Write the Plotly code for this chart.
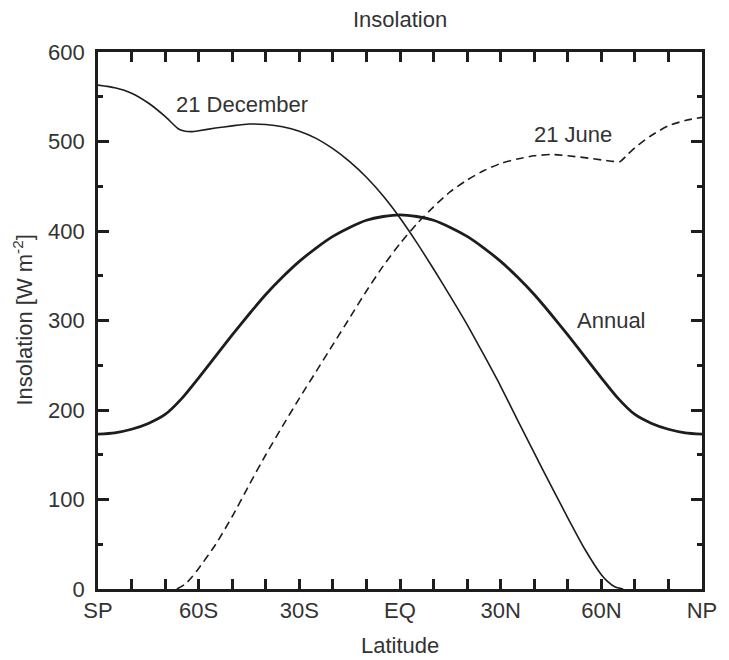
import plotly.graph_objects as go

# ---- data ----
lat_dec = [-90, -85, -80, -75, -70, -66, -64, -62, -60, -55, -50, -45, -40, -35, -30, -25, -20,
           -15, -10, -5, 0, 5, 10, 15, 20, 25, 30, 35, 40, 45, 50, 55, 60, 62, 64, 66.5]
dec_21 = [563, 560, 554, 543, 528, 514, 511.5, 511, 512, 515, 517.5, 519.5, 519, 516.5, 511.5,
          503.5, 492, 477.5, 460, 439, 414.5, 387, 357.5, 327, 295.5, 261.5, 226.5, 189, 152, 115.5,
          79.5, 45, 16, 8, 2.5, 0]

lat_jun = [-66.5, -64, -62, -60, -55, -50, -45, -40, -35, -30, -25, -20, -15, -10, -5, 0, 5, 10,
           15, 20, 25, 30, 35, 40, 45, 50, 55, 60, 63, 65.5, 68, 70, 75, 80, 85, 90]
jun_21 = [0, 5.5, 13.5, 23, 49.5, 81, 116, 150, 182, 213, 243, 273, 303, 333, 361, 386, 408, 427,
          444, 457, 467.5, 475.5, 480.5, 484, 485.5, 484, 482, 479.5, 478, 477.5, 486, 493, 507,
          517.5, 523.5, 527]

lat_ann = [-90, -85, -80, -75, -70, -65, -60, -55, -50, -45, -40, -35, -30, -25, -20, -15, -10, -5,
           0, 5, 10, 15, 20, 25, 30, 35, 40, 45, 50, 55, 60, 65, 70, 75, 80, 85, 90]
annual = [173, 174.5, 178.5, 185, 195, 213, 236, 260, 284, 307, 329, 348.5, 366, 381, 394, 404,
          412, 416.2, 418, 416.2, 412, 404, 394, 381, 366, 348.5, 329, 307, 284, 260, 236, 213,
          195, 185, 178.5, 174.5, 173]

x_tickvals = [-90, -60, -30, 0, 30, 60, 90]
x_ticktext = ["SP", "60S", "30S", "EQ", "30N", "60N", "NP"]
y_tickvals = [0, 100, 200, 300, 400, 500, 600]

series_labels = ["21 December", "21 June", "Annual"]

# ---- style ----
LINE = "#1e1c1c"
TEXT = "#333333"
FONT = "Liberation Sans, Arial, Helvetica, sans-serif"
FS = 22

fig = go.Figure()
fig.add_trace(go.Scatter(x=lat_ann, y=annual, mode="lines", name="Annual",
                         line=dict(color=LINE, width=2.8, shape="spline", smoothing=0.7)))
fig.add_trace(go.Scatter(x=lat_dec, y=dec_21, mode="lines", name="21 December",
                         line=dict(color=LINE, width=1.6, shape="spline", smoothing=0.6)))
fig.add_trace(go.Scatter(x=lat_jun, y=jun_21, mode="lines", name="21 June",
                         line=dict(color=LINE, width=1.6, dash="8px,5px", shape="spline", smoothing=0.6)))

annos = [
    dict(x=-47.2, y=541, text=series_labels[0]),
    dict(x=51.6, y=508, text=series_labels[1]),
    dict(x=63.0, y=300, text=series_labels[2]),
]
for a in annos:
    fig.add_annotation(x=a["x"], y=a["y"], xref="x", yref="y", text=a["text"], showarrow=False,
                       font=dict(family=FONT, size=FS, color=TEXT), xanchor="center", yanchor="middle")

# axis titles and chart title
fig.add_annotation(x=0.5, y=1, xref="paper", yref="paper", yshift=33, text="Insolation",
                   showarrow=False, font=dict(family=FONT, size=FS, color=TEXT),
                   xanchor="center", yanchor="middle")
fig.add_annotation(x=0.5, y=0, xref="paper", yref="paper", yshift=-56, text="Latitude",
                   showarrow=False, font=dict(family=FONT, size=FS, color=TEXT),
                   xanchor="center", yanchor="middle")
fig.add_annotation(x=0, y=0.5, xref="paper", yref="paper", xshift=-76,
                   text="Insolation [W m<sup>-2</sup>]", textangle=-90,
                   showarrow=False, font=dict(family=FONT, size=FS, color=TEXT),
                   xanchor="center", yanchor="middle")

fig.update_xaxes(range=[-90, 90], tickmode="array", tickvals=x_tickvals, ticktext=x_ticktext,
                 ticks="inside", ticklen=10, tickwidth=2.5, tickcolor=LINE,
                 minor=dict(dtick=10, tick0=-90, ticks="inside", ticklen=10, tickwidth=2.5, tickcolor=LINE),
                 showline=True, linecolor=LINE, linewidth=2.8, mirror="ticks",
                 showgrid=False, zeroline=False,
                 tickfont=dict(family=FONT, size=FS, color=TEXT))
fig.update_yaxes(range=[0, 600], tickmode="array", tickvals=y_tickvals,
                 ticks="inside", ticklen=11, tickwidth=2.5, tickcolor=LINE,
                 minor=dict(dtick=50, tick0=0, ticks="inside", ticklen=5, tickwidth=2.5, tickcolor=LINE),
                 showline=True, linecolor=LINE, linewidth=2.8, mirror="ticks",
                 showgrid=False, zeroline=False, ticklabelstandoff=6,
                 tickfont=dict(family=FONT, size=FS, color=TEXT))

fig.update_layout(width=729, height=660, showlegend=False,
                  margin=dict(l=98, r=17, t=52, b=71, pad=0),
                  paper_bgcolor="white", plot_bgcolor="white")

fig.write_html("out.html")
